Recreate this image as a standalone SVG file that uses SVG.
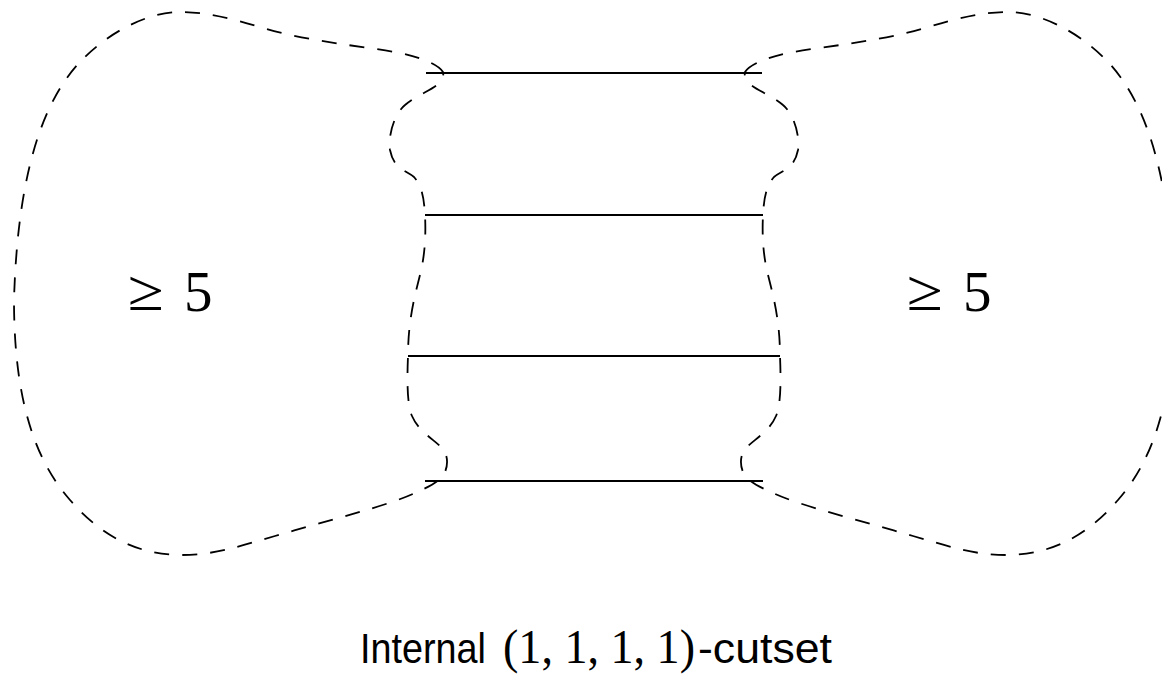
<svg xmlns="http://www.w3.org/2000/svg" width="1162" height="677" viewBox="0 0 1162 677">
  <style>
    .boundary { fill: none; stroke: #000; stroke-width: 1.8; stroke-dasharray: 15 13; stroke-linecap: butt; }
    .edge { fill: none; stroke: #000; stroke-width: 1.8; }
    .math { font-family: "Liberation Serif", "Times New Roman", serif; fill: #000; }
    .sans { font-family: "Liberation Sans", Arial, sans-serif; fill: #000; }
  </style>
  <defs>
    <!-- one side: big outer lobe plus the wavy inner wall between the four cut edges -->
    <path id="lobe" d="M443,72 C438,64 420,57 395,52 C360,46 305,41 260,27 C230,18 205,12 180,12 C150,12 110,30 79,63 C48,97 18,160 14,300 C14,400 35,460 70,500 C95,529 130,555 182,555 C215,555 240,546 275,536 C330,520 390,505 415,493 C428,487 440,482 445,472 C449,462 447,452 440,446 C430,437 418,430 412,416 C407,405 407,380 408,356 C408,320 415,295 420,275 C425,255 426,235 425,215 C424,198 422,186 414,177 C406,170 394,170 390,150 C388,138 393,115 405,105 C415,96 432,90 438,84 C442,80 444,76 443,72 Z"/>
  </defs>
  <rect width="1162" height="677" fill="#fff"/>

  <g id="left-side">
    <use href="#lobe" class="boundary"/>
    <text class="math" x="128" y="310" font-size="58" textLength="36" lengthAdjust="spacingAndGlyphs">≥</text>
    <text class="math" x="184" y="311" font-size="57">5</text>
  </g>

  <g id="right-side">
    <use href="#lobe" class="boundary" transform="matrix(-1 0 0 1 1188 0)"/>
    <text class="math" x="907" y="310" font-size="58" textLength="36" lengthAdjust="spacingAndGlyphs">≥</text>
    <text class="math" x="963" y="311" font-size="57">5</text>
  </g>

  <g id="cut-edges">
    <line class="edge" x1="426" y1="73" x2="762" y2="73"/>
    <line class="edge" x1="425" y1="215" x2="763" y2="215"/>
    <line class="edge" x1="408" y1="356" x2="780" y2="356"/>
    <line class="edge" x1="425" y1="481" x2="763" y2="481"/>
  </g>

  <g id="caption">
    <text y="663"><tspan class="sans" x="360" font-size="42" textLength="126" lengthAdjust="spacingAndGlyphs">Internal</tspan><tspan class="math" x="503" font-size="49" textLength="192" lengthAdjust="spacingAndGlyphs">(1, 1, 1, 1)</tspan><tspan class="sans" x="698" font-size="42" textLength="134" lengthAdjust="spacingAndGlyphs">-cutset</tspan></text>
  </g>
</svg>
